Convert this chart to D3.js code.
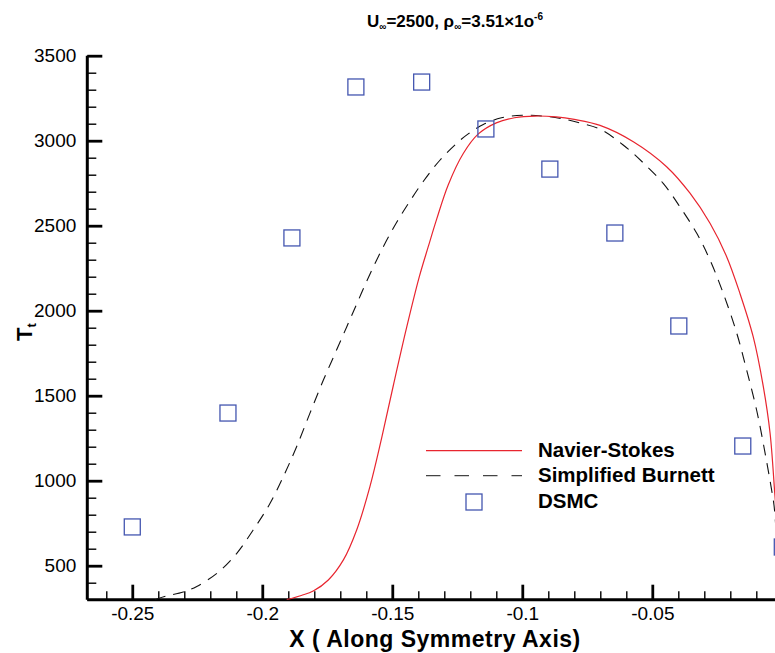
<!DOCTYPE html>
<html>
<head>
<meta charset="utf-8">
<script src="https://cdn.jsdelivr.net/npm/d3@7"></script>
<style>
body { margin: 0; background: #fff; }
svg { display: block; font-family: "Liberation Sans", Arial, Helvetica, sans-serif; }
</style>
</head>
<body>
<script>
"use strict";

// Navier-Stokes (x, Tt)
let nsX = [-0.1906, -0.1850, -0.1804, -0.1746, -0.1688, -0.1637, -0.1586, -0.1541, -0.1496, -0.1445,
    -0.1396, -0.1362, -0.1329, -0.1285, -0.1227, -0.1169, -0.1100, -0.1030, -0.0950, -0.0870,
    -0.0800, -0.0701, -0.0573, -0.0445, -0.0355, -0.0278, -0.0214, -0.0163, -0.0112, -0.0073,
    -0.0047, -0.0028, -0.0015, 0];
let nsT = [300, 325, 351, 416, 534, 710, 965, 1250, 1560, 1900,
    2200, 2375, 2540, 2740, 2925, 3040, 3105, 3135, 3145, 3140,
    3125, 3090, 2994, 2847, 2691, 2514, 2318, 2102, 1847, 1553,
    1279, 906, 650, 450];

// Simplified Burnett
let sbX = [-0.2413, -0.2372, -0.2304, -0.2252, -0.2169, -0.2098, -0.2035, -0.1970, -0.1913, -0.1868,
    -0.1817, -0.1765, -0.1720, -0.1675, -0.1631, -0.1586, -0.1535, -0.1483, -0.1432, -0.1381,
    -0.1317, -0.1252, -0.1208, -0.1150, -0.1080, -0.1000, -0.0920, -0.0850, -0.0780, -0.0701,
    -0.0612, -0.0535, -0.0458, -0.0394, -0.0329, -0.0278, -0.0227, -0.0175, -0.0137, -0.0098,
    -0.0066, -0.0041, -0.0032, -0.0020, 0];
let sbT = [300, 320, 345, 378, 462, 573, 710, 867, 1044, 1200,
    1396, 1592, 1749, 1906, 2060, 2215, 2375, 2520, 2645, 2760,
    2885, 2985, 3040, 3095, 3135, 3150, 3145, 3130, 3105, 3068,
    2975, 2870, 2749, 2612, 2455, 2298, 2102, 1867, 1650, 1410,
    1161, 945, 857, 650, 450];

// DSMC
let dsmcX = [-0.2500, -0.2132, -0.1886, -0.1640, -0.1387, -0.1140, -0.0894, -0.0644, -0.0398, -0.0152, 0.0000];
let dsmcT = [728, 1398, 2428, 3316, 3345, 3069, 2833, 2457, 1910, 1204, 610];

let xTicks = [-0.25, -0.2, -0.15, -0.1, -0.05];
let yTicks = [500, 1000, 1500, 2000, 2500, 3000, 3500];
let legendNames = ['Navier-Stokes', 'Simplified Burnett', 'DSMC'];

let margins = {top: 55.7, left: 87.3};
let width = 695;      // -0.2673 .. 0
let height = 544;     // 300 .. 3500

let svg = d3.select('body')
    .append('svg')
    .attr('width', 775)
    .attr('height', 653);

let g = svg.append('g')
    .attr('transform', 'translate(' + margins.left + ',' + margins.top + ')');

let x = d3.scaleLinear().domain([-0.2673, 0]).range([0, width]);
let y = d3.scaleLinear().domain([300, 3500]).range([height, 0]);

g.append('clipPath').attr('id', 'plot')
    .append('rect').attr('x', 0).attr('y', 0).attr('width', width + 20).attr('height', height);

// minor ticks
let xMinor = d3.range(-26, 0).map(function(i) { return i / 100; });
let yMinor = d3.range(300, 3501, 100);

g.append('g')
    .attr('transform', 'translate(0,' + height + ')')
    .call(d3.axisBottom(x).tickValues(xMinor).tickSize(-8.5).tickFormat(''))
    .call(function(s) { s.select('.domain').remove(); s.selectAll('line').attr('stroke-width', 1.4); });

g.append('g')
    .call(d3.axisLeft(y).tickValues(yMinor).tickSize(-9).tickFormat(''))
    .call(function(s) { s.select('.domain').remove(); s.selectAll('line').attr('stroke-width', 1.4); });

// major ticks + labels
let xAxis = g.append('g')
    .attr('transform', 'translate(0,' + height + ')')
    .call(d3.axisBottom(x).tickValues(xTicks).tickSize(-15).tickPadding(7)
        .tickFormat(function(d) { return String(d); }));
xAxis.selectAll('line').attr('stroke-width', 2.8);
xAxis.select('.domain').attr('stroke-width', 3).attr('d', 'M0,0H' + (width + 20));
xAxis.selectAll('text').attr('font-size', 19).attr('fill', '#000');

let yAxis = g.append('g')
    .call(d3.axisLeft(y).tickValues(yTicks).tickSize(-15).tickPadding(11)
        .tickFormat(function(d) { return String(d); }));
yAxis.selectAll('line').attr('stroke-width', 2.8);
yAxis.select('.domain').attr('stroke-width', 3).attr('d', 'M0,0V' + height);
yAxis.selectAll('text').attr('font-size', 19).attr('fill', '#000');

// curves
let line = d3.line()
    .x(function(d) { return x(d[0]); })
    .y(function(d) { return y(d[1]); })
    .curve(d3.curveCatmullRom.alpha(0.5));

let curves = g.append('g').attr('clip-path', 'url(#plot)');

curves.append('path')
    .datum(d3.zip(sbX, sbT))
    .attr('d', line)
    .attr('fill', 'none')
    .attr('stroke', '#111')
    .attr('stroke-width', 1.1)
    .attr('stroke-dasharray', '11,8');

curves.append('path')
    .datum(d3.zip(nsX, nsT))
    .attr('d', line)
    .attr('fill', 'none')
    .attr('stroke', '#e8252f')
    .attr('stroke-width', 1.2);

g.selectAll('.dsmc')
    .data(d3.zip(dsmcX, dsmcT))
    .enter()
    .append('rect')
    .attr('class', 'dsmc')
    .attr('x', function(d) { return x(d[0]) - 8; })
    .attr('y', function(d) { return y(d[1]) - 8; })
    .attr('width', 16)
    .attr('height', 16)
    .attr('fill', 'none')
    .attr('stroke', '#4456b0')
    .attr('stroke-width', 1.3);

// legend
let legend = svg.append('g');
legend.append('line')
    .attr('x1', 426).attr('x2', 522).attr('y1', 450.7).attr('y2', 450.7)
    .attr('stroke', '#e8252f').attr('stroke-width', 1.2);
legend.append('line')
    .attr('x1', 426).attr('x2', 522).attr('y1', 475.7).attr('y2', 475.7)
    .attr('stroke', '#444').attr('stroke-width', 1.2).attr('stroke-dasharray', '14.5,14');
legend.append('rect')
    .attr('x', 466).attr('y', 494).attr('width', 16).attr('height', 16)
    .attr('fill', 'none').attr('stroke', '#4456b0').attr('stroke-width', 1.3);
legend.selectAll('.lab')
    .data(legendNames)
    .enter()
    .append('text')
    .attr('class', 'lab')
    .attr('x', 538)
    .attr('y', function(d, i) { return 457 + i * 25.3; })
    .attr('font-size', 20.5)
    .attr('font-weight', 'bold')
    .text(function(d) { return d; });

// title
let title = svg.append('text')
    .attr('x', 367).attr('y', 27.3)
    .attr('font-size', 17).attr('font-weight', 'bold');
title.append('tspan').text('U');
title.append('tspan').attr('font-size', 10).attr('dy', 3).text('\u221e');
title.append('tspan').attr('dy', -3).text('=2500, \u03c1');
title.append('tspan').attr('font-size', 10).attr('dy', 3).text('\u221e');
title.append('tspan').attr('dy', -3).text('=3.51\u00d71o');
title.append('tspan').attr('font-size', 10).attr('dy', -7).text('-6');

// axis titles
svg.append('text')
    .attr('x', 435).attr('y', 647)
    .attr('text-anchor', 'middle')
    .attr('font-size', 23).attr('font-weight', 'bold')
    .attr('letter-spacing', 0.5)
    .text('X ( Along Symmetry Axis)');

let yt = svg.append('text')
    .attr('transform', 'translate(32,341) rotate(-90)')
    .attr('font-size', 22).attr('font-weight', 'bold');
yt.append('tspan').text('T');
yt.append('tspan').attr('font-size', 13).attr('dy', 4).text('t');
</script>
</body>
</html>
